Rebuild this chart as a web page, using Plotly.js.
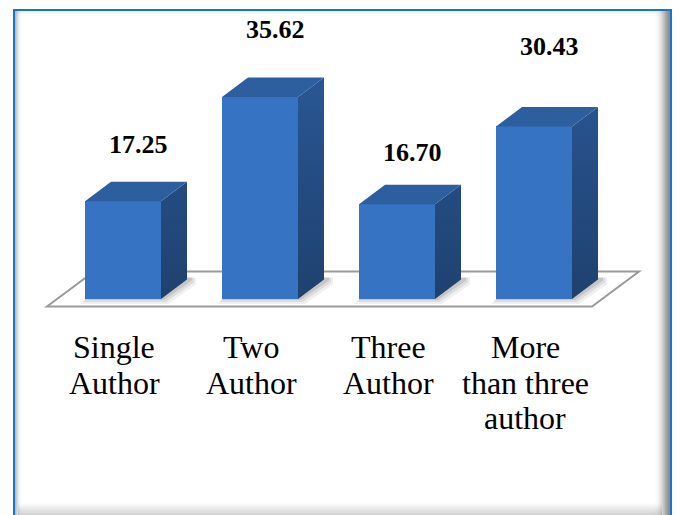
<!DOCTYPE html>
<html>
<head>
<meta charset="utf-8">
<script src="https://cdn.plot.ly/plotly-3.0.1.min.js"></script>
<style>
  html, body { margin: 0; padding: 0; width: 678px; height: 515px; overflow: hidden; background: #ffffff; }
  #frame {
    position: absolute; left: 13px; top: 9px; width: 655px; height: 520px;
    border: 2.5px solid #1476cc; background: #ffffff;
    box-shadow: inset -11px 0 8px -5px rgba(0,0,0,0.5),
                inset 6px 0 4px -4px rgba(0,0,0,0.35);
  }
  #bshadow {
    position: absolute; left: 18px; top: 503px; width: 644px; height: 12px;
    background: linear-gradient(to bottom, rgba(0,0,0,0) 0%, rgba(0,0,0,0.18) 100%);
  }
  #chart { position: absolute; left: 0; top: 0; width: 678px; height: 515px; }
</style>
</head>
<body>
<div id="frame"></div>
<div id="bshadow"></div>
<div id="chart"></div>
<script>
// ---- data ----
const categories = ["Single<br>Author", "Two<br>Author", "Three<br>Author", "More<br>than three<br>author"];
const values = [17.25, 35.62, 16.70, 30.43];
const valueLabels = ["17.25", "35.62", "16.70", "30.43"];

// ---- geometry / style ----
const W = 678, H = 515;
const PX_X = 137;      // pixels per category step
const PX_Y = 5.67;     // pixels per value unit
const X0 = 123;        // pixel x of first category
const Y0 = 299;        // pixel y of zero
const ML = 41, MR = 21;
const xr = [(ML - X0) / PX_X, (W - MR - X0) / PX_X];
const yr = [-(H - Y0) / PX_Y, Y0 / PX_Y];
const px2x = p => (p - X0) / PX_X;
const px2y = p => (Y0 - p) / PX_Y;
const dxp = p => p / PX_X;
const dyp = p => p / PX_Y;

const FONT = 'Liberation Serif';
const barW = 76 / PX_X;
const dX = 26 / PX_X;
const dY = 19.5 / PX_Y;
const labelLiftPx = [57, 68, 52, 80];   // value label lift above bar top
const catShiftPx = -9;
const catLineY = [347, 383, 418];

const xs = categories.map((c, i) => i);

// side and top faces
const sideX = [], sideY = [], topX = [], topY = [];
xs.forEach((x, i) => {
  const v = values[i];
  const r = x + barW / 2, l = x - barW / 2;
  sideX.push(r, r + dX, r + dX, r, r, null);
  sideY.push(0, dY, v + dY, v, 0, null);
  topX.push(l, l + dX, r + dX, r, l, null);
  topY.push(v, v + dY, v + dY, v, v, null);
});

const traces = [
  {
    type: 'bar', x: xs, y: values, width: barW,
    marker: { color: '#3673c3', line: { width: 0 } },
    hoverinfo: 'skip', showlegend: false
  },
  {
    type: 'scatter', mode: 'none', x: sideX, y: sideY, fill: 'toself',
    fillcolor: '#244b80',
    fillgradient: { type: 'vertical', colorscale: [[0, '#1f416f'], [1, '#295693']] },
    hoverinfo: 'skip', showlegend: false
  },
  {
    type: 'scatter', mode: 'none', x: topX, y: topY, fill: 'toself',
    fillcolor: '#2d5e9e', hoverinfo: 'skip', showlegend: false
  }
];

// floor parallelogram
const fl = px2x(47), fr = px2x(592), fy = px2y(306.5), by = px2y(271.5), fd = 47 / PX_X;
const shapes = [{
  type: 'path', xref: 'x', yref: 'y', layer: 'below',
  path: `M ${fl} ${fy} L ${fr} ${fy} L ${fr + fd} ${by} L ${fl + fd} ${by} Z`,
  line: { color: '#9a9a9a', width: 2 }, fillcolor: 'rgba(255,255,255,1)'
}];
// soft base shadows on the floor
xs.forEach(x => {
  const l = x - barW / 2, r = x + barW / 2;
  [[5, 0.06], [3, 0.08], [1, 0.10]].forEach(([g, a]) => {
    shapes.push({
      type: 'path', xref: 'x', yref: 'y', layer: 'below',
      path: `M ${l - dxp(g)} ${-dyp(g)} L ${r + dxp(g + 2)} ${-dyp(g)} L ${r + dX + dxp(g + 4)} ${dY - dyp(g)} L ${r + dX + dxp(g + 4)} ${dY + dyp(2)} L ${l + dX} ${dY + dyp(2)} Z`,
      line: { width: 0 }, fillcolor: `rgba(0,0,0,${a})`
    });
  });
});

const annotations = [];
xs.forEach((x, i) => {
  annotations.push({
    x: x + 15 / PX_X, y: values[i] + labelLiftPx[i] / PX_Y, xref: 'x', yref: 'y',
    text: '<b>' + valueLabels[i] + '</b>', showarrow: false, xanchor: 'center', yanchor: 'middle',
    font: { family: FONT, size: 26, color: '#000000' }
  });
  categories[i].split('<br>').forEach((line, k) => {
    annotations.push({
      x: x + catShiftPx / PX_X, y: px2y(catLineY[k]), xref: 'x', yref: 'y',
      text: line, showarrow: false, xanchor: 'center', yanchor: 'middle',
      font: { family: FONT, size: 32, color: '#000000' }
    });
  });
});

const layout = {
  width: W, height: H,
  margin: { l: ML, r: MR, t: 0, b: 0, pad: 0 },
  paper_bgcolor: 'rgba(0,0,0,0)', plot_bgcolor: 'rgba(0,0,0,0)',
  xaxis: { range: xr, visible: false, fixedrange: true },
  yaxis: { range: yr, visible: false, fixedrange: true },
  shapes: shapes, annotations: annotations, showlegend: false, bargap: 0
};

Plotly.newPlot('chart', traces, layout, { displayModeBar: false, staticPlot: true });
</script>
</body>
</html>
